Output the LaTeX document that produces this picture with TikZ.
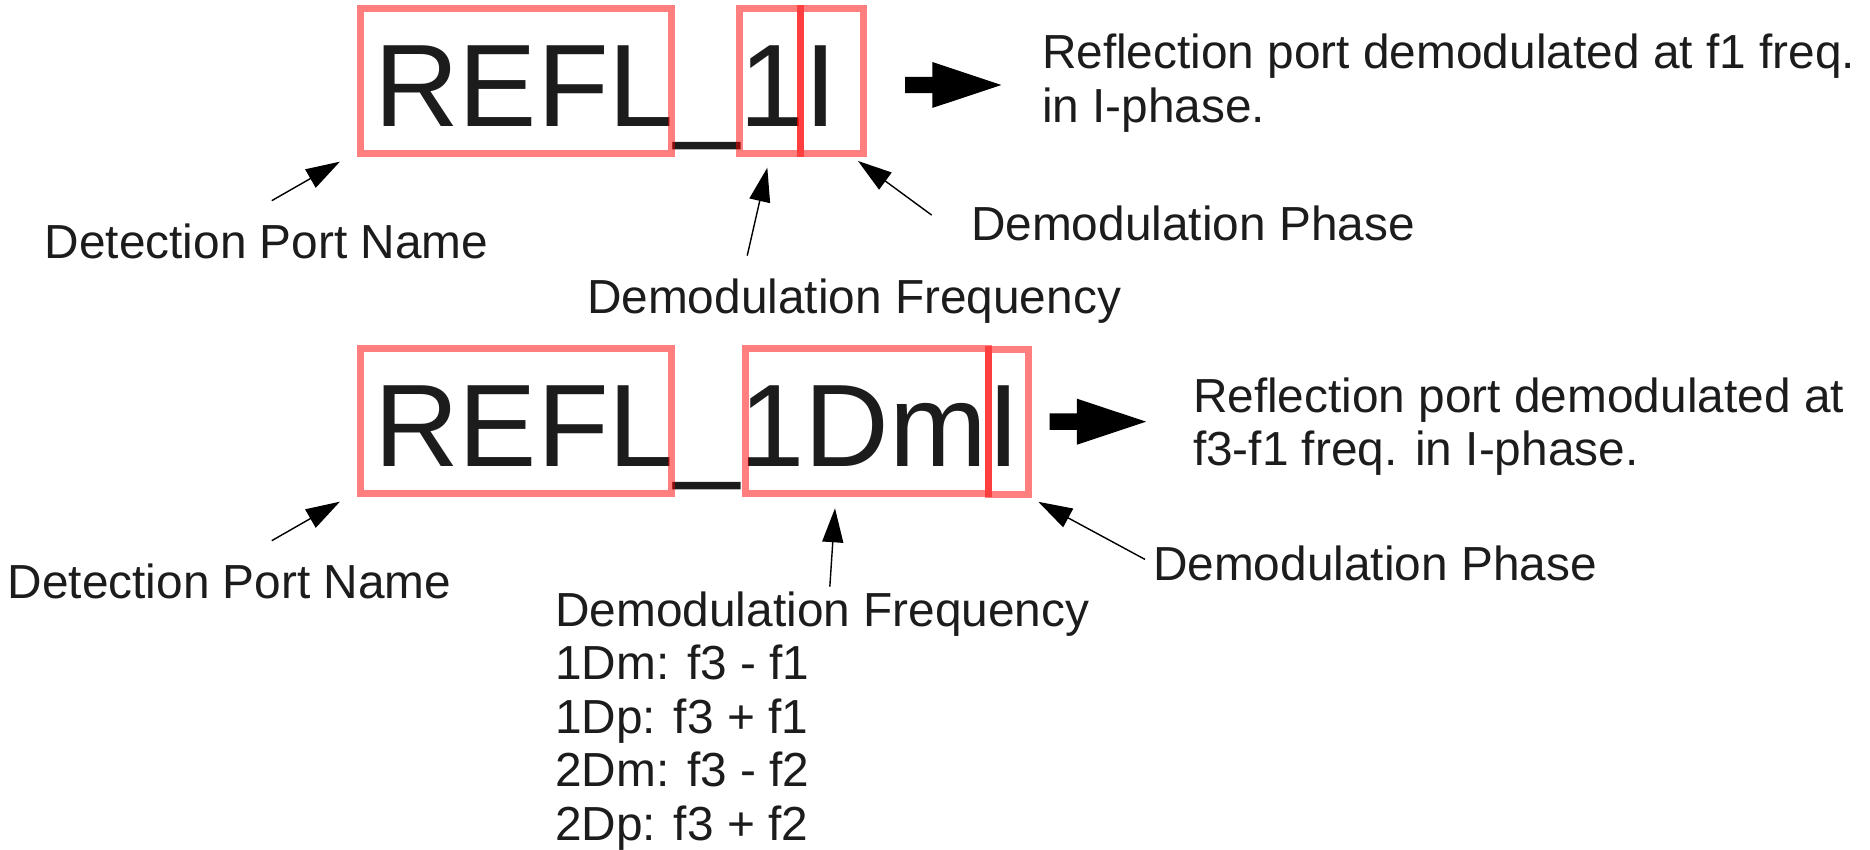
\documentclass[tikz,border=0pt]{standalone}
\usepackage{fontspec}
\setmainfont{Liberation Sans}
\usepackage{xcolor}
\usepackage{tikz}
\usetikzlibrary{positioning,shapes,arrows.meta}
\definecolor{ink}{HTML}{1C1C1C}

\begin{document}
\begin{tikzpicture}[
    portbox/.style={draw=red,draw opacity=0.5,line width=0.07cm,inner sep=0pt,outer sep=0pt,minimum height=1.449cm},
    code/.style={font=\fontsize{33.4}{40}\selectfont,text=ink,inner sep=0pt,anchor=base west},
    lbl/.style={font=\fontsize{13.6}{15.2}\selectfont,text=ink,inner sep=0pt,align=left},
    pointer/.style={draw=black,line width=0.4pt,-{Triangle[length=0.34cm,width=0.21cm]}},
    bigarrow/.style={single arrow,fill=black,inner xsep=0pt,inner ysep=0.075cm,minimum height=0.964cm,
                     single arrow head extend=0.148cm,single arrow tip angle=36.8,anchor=tail}]
            \useasboundingbox (0,0) rectangle (18.7,-8.5);
            % REFL_1I
            \node[code] (codeA) at (3.734,-1.267) {REFL\_1I};
            \node[portbox,minimum width=3.103cm] (reflA) at (5.1585,-0.8125) {};
            \node[portbox,minimum width=0.606cm] (freqA) at (7.70,-0.8125) {};
            \node[portbox,minimum width=0.627cm] (phaseA) at (8.3165,-0.8125) {};
            \node[bigarrow] (goA) at (9.043,-0.85) {};
            \node[lbl,anchor=north west] (descA) at (10.413,-0.334)
                 {Reflection port demodulated at f1 freq.\\in I-phase.};
            \node[lbl,anchor=base west] (portA) at (0.440,-2.583) {Detection Port Name};
            \node[lbl,anchor=base west] (freqlblA) at (5.863,-3.133) {Demodulation Frequency};
            \node[lbl,anchor=base west] (phaselblA) at (9.703,-2.407) {Demodulation Phase};
            \draw[pointer] ([shift={(0.053,0.223)}]portA.north) -- ([shift={(-0.208,-0.08)}]reflA.south west);
            \draw[pointer] ([shift={(-1.068,0.223)}]freqlblA.north) -- ([shift={(-0.027,-0.14)}]freqA.south);
            \draw[pointer] ([shift={(-0.386,0.085)}]phaselblA.west) -- ([shift={(-0.05,-0.073)}]phaseA.south east);
            % REFL_1DmI
            \node[code] (codeB) at (3.734,-4.667) {REFL\_1DmI};
            \node[portbox,minimum width=3.103cm] (reflB) at (5.1585,-4.2125) {};
            \node[portbox,minimum width=2.426cm] (freqB) at (8.67,-4.2125) {};
            \node[portbox,minimum width=0.404cm] (phaseB) at (10.085,-4.2235) {};
            \node[bigarrow] (goB) at (10.49,-4.217) {};
            \node[lbl,anchor=north west] (descB) at (11.923,-3.768)
                 {Reflection port demodulated at\\f3-f1 freq. in I-phase.};
            \node[lbl,anchor=base west] (portB) at (0.070,-5.983) {Detection Port Name};
            \node[lbl,anchor=north west] (freqlblB) at (5.546,-5.91)
                 {Demodulation Frequency\\1Dm: f3 - f1\\1Dp: f3 + f1\\2Dm: f3 - f2\\2Dp: f3 + f2};
            \node[lbl,anchor=base west] (phaselblB) at (11.523,-5.807) {Demodulation Phase};
            \draw[pointer] ([shift={(0.423,0.223)}]portB.north) -- ([shift={(-0.208,-0.08)}]reflB.south west);
            \draw[pointer] ([shift={(0.075,0.043)}]freqlblB.north) -- ([shift={(-0.32,-0.146)}]freqB.south);
            \draw[pointer] ([shift={(-0.073,0.042)}]phaselblB.west) -- ([shift={(0.096,-0.07)}]phaseB.south east);
          \end{tikzpicture}
\end{document}
